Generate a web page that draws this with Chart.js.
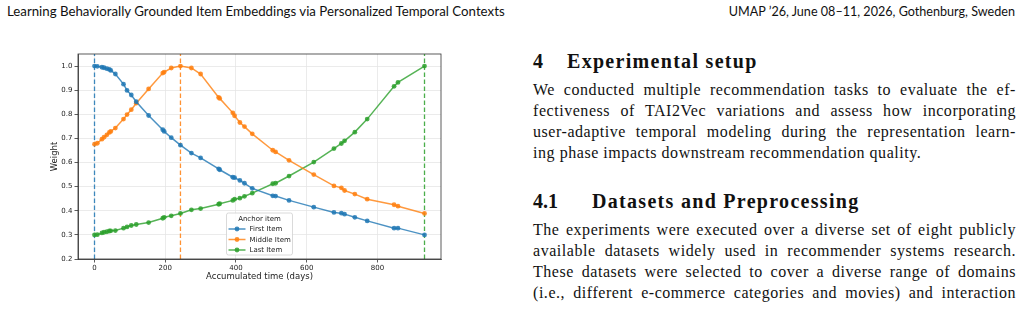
<!DOCTYPE html>
<html>
<head>
<meta charset="utf-8">
<script src="https://cdn.jsdelivr.net/npm/chart.js@4"></script>
<style>
  body { margin: 0; width: 1023px; height: 309px; background: #fff; position: relative; overflow: hidden; }
  .hdr { position: absolute; top: 3px; font: 13.25px Lato, sans-serif; color: #111; white-space: nowrap; }
  #chartBox { position: absolute; left: 40px; top: 45px; width: 410px; height: 240px; }
  .h { position: absolute; left: 533px; font: bold 20px "Liberation Serif", serif; letter-spacing: 1.3px; color: #111; white-space: nowrap; }
  .h span { display: inline-block; letter-spacing: 0; }
  .ln { position: absolute; left: 533px; width: 483px; font: 16px "Liberation Serif", serif; line-height: 20px; color: #111;
        letter-spacing: 0.55px; text-align: justify; text-align-last: justify; white-space: nowrap; }
  .ln.last { text-align-last: left; }
</style>
</head>
<body>
<div class="hdr" style="left:7px">Learning Behaviorally Grounded Item Embeddings via Personalized Temporal Contexts</div>
<div class="hdr" style="right:8px; font-size:12.6px; top:3.5px">UMAP ’26, June 08–11, 2026, Gothenburg, Sweden</div>

<div id="chartBox"><canvas id="myChart" width="410" height="240"></canvas></div>

<div class="h" style="top:50px"><span style="width:34px">4</span>Experimental setup</div>
<div class="ln" style="top:80px">We conducted multiple recommendation tasks to evaluate the ef-</div>
<div class="ln" style="top:101px">fectiveness of TAI2Vec variations and assess how incorporating</div>
<div class="ln" style="top:122px">user-adaptive temporal modeling during the representation learn-</div>
<div class="ln last" style="top:143px">ing phase impacts downstream recommendation quality.</div>

<div class="h" style="top:190px"><span style="width:59px">4.1</span>Datasets and Preprocessing</div>
<div class="ln" style="top:220px">The experiments were executed over a diverse set of eight publicly</div>
<div class="ln" style="top:241px">available datasets widely used in recommender systems research.</div>
<div class="ln" style="top:262px">These datasets were selected to cover a diverse range of domains</div>
<div class="ln" style="top:283px">(i.e., different e-commerce categories and movies) and interaction</div>

<script>
const days = [0, 8, 21, 27, 35, 42, 46, 59, 82, 92, 104, 118, 153, 193, 197, 217, 243, 274, 300,
  351, 354, 391, 396, 411, 424, 446, 504, 512, 550, 620, 677, 698, 707, 736, 771, 847, 858, 933];
const firstItem = [1.0, 0.999, 0.995, 0.993, 0.989, 0.986, 0.982, 0.967, 0.925, 0.899, 0.880, 0.852, 0.795,
  0.736, 0.729, 0.703, 0.672, 0.639, 0.619, 0.574, 0.570, 0.539, 0.537, 0.526, 0.514, 0.493, 0.462, 0.461,
  0.443, 0.415, 0.393, 0.390, 0.386, 0.373, 0.358, 0.328, 0.328, 0.300];
const middleItem = [0.676, 0.680, 0.697, 0.705, 0.715, 0.725, 0.729, 0.743, 0.780, 0.799, 0.819, 0.846, 0.905,
  0.971, 0.975, 0.992, 1.0, 0.992, 0.967, 0.870, 0.866, 0.806, 0.794, 0.766, 0.749, 0.719, 0.651, 0.644,
  0.609, 0.550, 0.503, 0.495, 0.484, 0.469, 0.448, 0.425, 0.419, 0.389];
const lastItem = [0.300, 0.301, 0.308, 0.311, 0.313, 0.316, 0.317, 0.318, 0.328, 0.333, 0.339, 0.343, 0.351,
  0.369, 0.373, 0.379, 0.389, 0.404, 0.409, 0.427, 0.429, 0.443, 0.448, 0.452, 0.460, 0.473, 0.512, 0.514,
  0.544, 0.602, 0.658, 0.679, 0.690, 0.726, 0.780, 0.916, 0.932, 1.0];
const anchorDays = [0, 243, 933];
const seriesNames = ["First Item", "Middle Item", "Last Item"];
const legendTitle = "Anchor item";
const xTicks = [0, 200, 400, 600, 800];
const yTicks = [0.2, 0.3, 0.4, 0.5, 0.6, 0.7, 0.8, 0.9, 1.0];

const colors = ["31,119,180", "255,127,14", "44,160,44"];
const xMin = -46.65, xMax = 979.65, yMin = 0.2, yMax = 1.05;
const tickFont = { family: "DejaVu Sans", size: 7 };
const titleFont = { family: "DejaVu Sans", size: 8.5 };

const series = [firstItem, middleItem, lastItem].map((vals, i) => ({
  label: seriesNames[i],
  data: days.map((d, j) => ({ x: d, y: vals[j] })),
  borderColor: `rgba(${colors[i]},0.8)`,
  backgroundColor: `rgba(${colors[i]},0.85)`,
  borderWidth: 1.5,
  pointRadius: 2.4,
  pointBorderWidth: 0,
  tension: 0,
}));

const anchors = anchorDays.map((d, i) => ({
  label: "anchor " + i,
  data: [{ x: d, y: yMin }, { x: d, y: yMax }],
  borderColor: `rgba(${colors[i]},0.85)`,
  borderWidth: 1.3,
  borderDash: [4.5, 2.5],
  pointRadius: 0,
}));

// top/right spines + legend box in lower center, like matplotlib
const frameLegend = {
  id: "frameLegend",
  afterDraw(chart) {
    const { ctx, chartArea: a } = chart;
    ctx.save();
    ctx.strokeStyle = "#333";
    ctx.lineWidth = 0.8;
    ctx.strokeRect(a.left, a.top, a.right - a.left, a.bottom - a.top);

    const w = 66, h = 42;
    const x = (a.left + a.right) / 2 - w / 2;
    const y = a.bottom - 4 - h;
    ctx.fillStyle = "rgba(255,255,255,0.85)";
    ctx.strokeStyle = "#d0d0d0";
    ctx.lineWidth = 0.8;
    ctx.beginPath();
    ctx.roundRect(x, y, w, h, 2);
    ctx.fill();
    ctx.stroke();

    ctx.fillStyle = "#222";
    ctx.font = "7px 'DejaVu Sans'";
    ctx.textBaseline = "middle";
    ctx.textAlign = "center";
    ctx.fillText(legendTitle, x + w / 2, y + 6.5);
    ctx.textAlign = "left";
    seriesNames.forEach((name, i) => {
      const ry = y + 16 + i * 10.5;
      ctx.strokeStyle = `rgba(${colors[i]},0.8)`;
      ctx.lineWidth = 1.5;
      ctx.beginPath();
      ctx.moveTo(x + 2, ry);
      ctx.lineTo(x + 19, ry);
      ctx.stroke();
      ctx.fillStyle = `rgba(${colors[i]},0.85)`;
      ctx.beginPath();
      ctx.arc(x + 10.5, ry, 2.4, 0, Math.PI * 2);
      ctx.fill();
      ctx.fillStyle = "#222";
      ctx.fillText(name, x + 23, ry + 0.5);
    });
    ctx.restore();
  },
};

new Chart(document.getElementById("myChart"), {
  type: "line",
  data: { datasets: [...series, ...anchors] },
  options: {
    responsive: false,
    animation: false,
    layout: { padding: { top: 9, right: 9, left: 0, bottom: 0 } },
    plugins: { legend: { display: false }, tooltip: { enabled: false } },
    scales: {
      x: {
        type: "linear",
        min: xMin,
        max: xMax,
        afterBuildTicks: (s) => { s.ticks = xTicks.map((v) => ({ value: v })); },
        afterFit: (s) => { s.height = 26; },
        ticks: { font: tickFont, color: "#222", padding: 1.5, maxRotation: 0, callback: (v) => String(v) },
        grid: { color: "#e6e6e6", lineWidth: 0.8, tickColor: "#333", tickLength: 3.5 },
        border: { color: "#333", width: 0.8 },
        title: { display: true, text: "Accumulated time (days)", color: "#222",
                 font: titleFont, padding: { top: 0, bottom: 3 } },
      },
      y: {
        min: yMin,
        max: yMax,
        afterBuildTicks: (s) => { s.ticks = yTicks.map((v) => ({ value: v })); },
        afterFit: (s) => { s.width = 38; },
        ticks: { font: tickFont, color: "#222", padding: 2, callback: (v) => v.toFixed(1) },
        grid: { color: "#e6e6e6", lineWidth: 0.8, tickColor: "#333", tickLength: 3.5 },
        border: { color: "#333", width: 0.8 },
        title: { display: true, text: "Weight", color: "#222",
                 font: titleFont, padding: { top: 10, bottom: 0 } },
      },
    },
  },
  plugins: [frameLegend],
});
</script>
</body>
</html>
